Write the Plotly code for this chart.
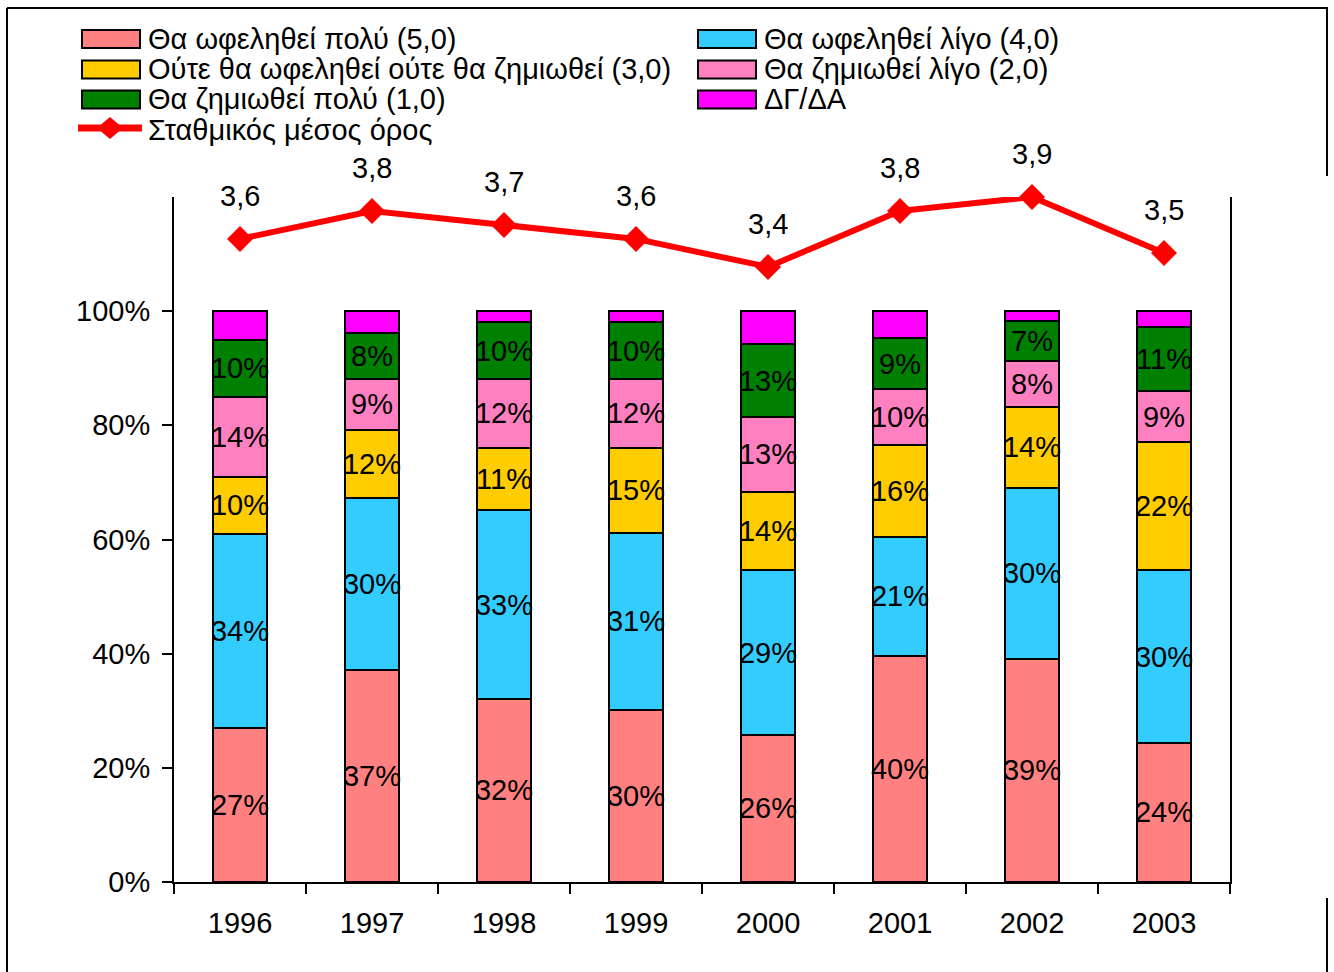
import plotly.graph_objects as go

# ---- data ----
years = [1996, 1997, 1998, 1999, 2000, 2001, 2002, 2003]

benefit_much   = [27.0, 37.2, 32.1, 30.2, 25.8, 39.6, 39.1, 24.4]
benefit_little = [34.0, 30.0, 33.0, 30.9, 28.8, 20.9, 30.0, 30.2]
neither        = [10.0, 12.0, 11.0, 15.0, 13.8, 16.0, 14.1, 22.4]
harm_little    = [14.0,  9.0, 12.0, 12.0, 13.0,  9.8,  8.0,  9.0]
harm_much      = [10.0,  8.0, 10.0, 10.0, 12.8,  9.0,  7.0, 11.2]
dk_na          = [ 5.0,  3.8,  1.9,  1.9,  5.8,  4.7,  1.8,  2.8]

weighted_mean  = [3.6, 3.8, 3.7, 3.6, 3.4, 3.8, 3.9, 3.5]

series = [
    ("Θα ωφεληθεί πολύ (5,0)", benefit_much, "#FF8080", True),
    ("Θα ωφεληθεί λίγο (4,0)", benefit_little, "#33CCFF", True),
    ("Ούτε θα ωφεληθεί ούτε θα ζημιωθεί (3,0)", neither, "#FFCC00", True),
    ("Θα ζημιωθεί λίγο (2,0)", harm_little, "#FF80C0", True),
    ("Θα ζημιωθεί πολύ (1,0)", harm_much, "#008000", True),
    ("ΔΓ/ΔΑ", dk_na, "#FF00FF", False),
]
mean_name = "Σταθμικός μέσος όρος"

FONT = "Liberation Sans, Arial, sans-serif"
FS = 29

# plot area in pixels
WIDTH, HEIGHT = 1334, 972
L, R, T, B = 174, 104, 197, 90
PW, PH = WIDTH - L - R, HEIGHT - T - B


def px(x):
    return (x - L) / PW


def py(y):
    return (HEIGHT - B - y) / PH


fig = go.Figure()

for name, vals, color, labelled in series:
    fig.add_trace(go.Bar(
        x=years, y=vals, name=name, width=0.41,
        marker=dict(color=color, line=dict(color="black", width=2)),
        text=[f"{v:.0f}%" for v in vals] if labelled else None,
        textposition="inside" if labelled else "none",
        insidetextanchor="middle",
        textangle=0,
        constraintext="none",
        textfont=dict(size=FS, color="black", family=FONT),
        showlegend=False,
    ))

fig.add_trace(go.Scatter(
    x=years, y=weighted_mean, name=mean_name, yaxis="y2",
    mode="lines+markers",
    line=dict(color="#FF0000", width=6),
    marker=dict(symbol="diamond", size=20, color="#FF0000"),
    cliponaxis=False,
    showlegend=False,
))

# value labels above the line points
for yr, v in zip(years, weighted_mean):
    fig.add_annotation(
        x=yr, y=v, yref="y2", text=f"{v:.1f}".replace(".", ","),
        showarrow=False, yanchor="middle", yshift=43,
        font=dict(size=FS, color="black", family=FONT),
    )

# ---- hand-drawn legend (two columns, wide swatches) ----
shapes = []
row_y = [39, 69.5, 99.5, 130]
col_x = [82, 698]
for i, (name, _, color, _) in enumerate(series):
    row, col = divmod(i, 2)
    x0 = col_x[col]
    yc = row_y[row]
    shapes.append(dict(type="rect", xref="paper", yref="paper",
                       x0=px(x0), x1=px(x0 + 58), y0=py(yc - 9), y1=py(yc + 9),
                       fillcolor=color, line=dict(color="black", width=2)))
    fig.add_annotation(xref="paper", yref="paper", x=px(x0 + 64), y=py(yc),
                       xanchor="left", yanchor="middle", showarrow=False,
                       text=name, font=dict(size=FS, color="black", family=FONT))

yc = row_y[3] - 2
shapes.append(dict(type="line", xref="paper", yref="paper",
                   x0=px(78), x1=px(142), y0=py(yc), y1=py(yc),
                   line=dict(color="#FF0000", width=7)))
shapes.append(dict(type="path", xref="paper", yref="paper",
                   path=f"M {px(97)},{py(yc)} L {px(110)},{py(yc - 11)} "
                        f"L {px(123)},{py(yc)} L {px(110)},{py(yc + 11)} Z",
                   fillcolor="#FF0000", line=dict(color="#FF0000", width=0)))
fig.add_annotation(xref="paper", yref="paper", x=px(146), y=py(row_y[3]),
                   xanchor="left", yanchor="middle", showarrow=False,
                   text=mean_name, font=dict(size=FS, color="black", family=FONT))

# outer frame (partly hidden behind the plot area on the right)
frame = dict(color="black", width=2)
for x0, y0, x1, y1 in [(7, 8, 1328, 8), (7, 8, 7, 972),
                       (1327, 8, 1327, 176), (1327, 898, 1327, 972)]:
    shapes.append(dict(type="line", xref="paper", yref="paper",
                       x0=px(x0), x1=px(x1), y0=py(y0), y1=py(y1), line=frame))

fig.update_layout(
    width=WIDTH, height=HEIGHT,
    margin=dict(l=L, r=R, t=T, b=B, pad=0),
    paper_bgcolor="white", plot_bgcolor="white",
    font=dict(family=FONT, size=FS, color="black"),
    barmode="stack",
    showlegend=False,
    shapes=shapes,
    xaxis=dict(range=[1995.5, 2003.5], tickvals=years,
               ticktext=[str(y) for y in years],
               showline=True, linecolor="black", linewidth=2,
               ticks="", showgrid=False, zeroline=False,
               minor=dict(ticks="outside", tick0=1995.5, dtick=1, ticklen=10,
                          tickwidth=2, tickcolor="black", showgrid=False),
               tickfont=dict(size=FS, family=FONT), ticklabelstandoff=14),
    yaxis=dict(range=[0, 120], tickvals=[0, 20, 40, 60, 80, 100],
               ticktext=["0%", "20%", "40%", "60%", "80%", "100%"],
               showline=True, linecolor="black", linewidth=2,
               ticks="outside", ticklen=10, tickwidth=2, tickcolor="black",
               showgrid=False, zeroline=False,
               tickfont=dict(size=FS, family=FONT), ticklabelstandoff=6),
    yaxis2=dict(range=[-1.0, 3.9], overlaying="y", side="right",
                showline=True, linecolor="black", linewidth=2,
                showticklabels=False, ticks="", showgrid=False, zeroline=False),
)

fig.write_html("out.html", config={"displayModeBar": False},
               post_script="document.body.style.margin='0';")
